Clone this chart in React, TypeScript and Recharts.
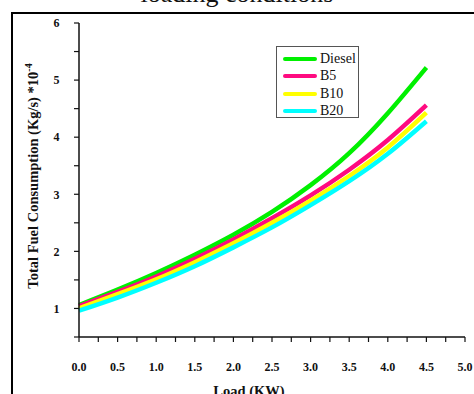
import { LineChart, Line, XAxis, YAxis, Legend } from "recharts";

const loads = [0, 0.5, 1.0, 1.5, 2.0, 2.5, 3.0, 3.5, 4.0, 4.5];
const diesel = [1.06, 1.33, 1.62, 1.94, 2.29, 2.69, 3.16, 3.72, 4.42, 5.22];
const b5 = [1.04, 1.29, 1.56, 1.87, 2.21, 2.58, 2.98, 3.43, 3.95, 4.56];
const b10 = [1.0, 1.25, 1.51, 1.81, 2.14, 2.5, 2.89, 3.32, 3.82, 4.43];
const b20 = [0.96, 1.19, 1.45, 1.74, 2.07, 2.42, 2.81, 3.23, 3.71, 4.28];

const xTicks = [0, 0.25, 0.5, 0.75, 1, 1.25, 1.5, 1.75, 2, 2.25, 2.5, 2.75, 3, 3.25, 3.5, 3.75, 4, 4.25, 4.5, 4.75, 5];
const yTicks = [0.5, 1, 1.5, 2, 2.5, 3, 3.5, 4, 4.5, 5, 5.5, 6];

const series = [
  { key: "diesel", name: "Diesel", color: "#00f000" },
  { key: "b5", name: "B5", color: "#ff0a80" },
  { key: "b10", name: "B10", color: "#ffff00" },
  { key: "b20", name: "B20", color: "#00ffff" },
];

const data = loads.map((load, i) => ({
  load,
  diesel: diesel[i],
  b5: b5[i],
  b10: b10[i],
  b20: b20[i],
}));

const serif = "'Liberation Serif', 'Times New Roman', serif";
const tickStyle = { fontSize: 12, fontWeight: 700, fill: "#111", fontFamily: serif };

function renderLegend() {
  return (
    <div
      style={{
        width: 83,
        height: 72,
        border: "1px solid #555",
        background: "#fff",
        fontFamily: serif,
        fontSize: 14,
        color: "#111",
        paddingTop: 3,
        boxSizing: "border-box",
      }}
    >
      {series.map((s) => (
        <div key={s.key} style={{ display: "flex", alignItems: "center", height: 17.5 }}>
          <span
            style={{
              display: "inline-block",
              width: 34,
              height: 4,
              marginLeft: 6,
              marginRight: 3,
              background: s.color,
              borderRadius: 2,
            }}
          />
          <span>{s.name}</span>
        </div>
      ))}
    </div>
  );
}

export default function App() {
  return (
    <div
      style={{
        position: "absolute",
        left: 0,
        top: 0,
        width: 474,
        height: 394,
        overflow: "hidden",
        background: "#fff",
      }}
    >
      <div
        style={{
          position: "absolute",
          left: 0,
          width: 474,
          top: -23,
          textAlign: "center",
          fontFamily: serif,
          fontSize: 26,
          lineHeight: "34px",
          color: "#111",
        }}
      >
        loading conditions
      </div>
      <div
        style={{
          position: "absolute",
          left: 11,
          top: 12,
          width: 480,
          height: 400,
          borderLeft: "2px solid #000",
          borderTop: "2px solid #000",
        }}
      />
      <div style={{ position: "absolute", left: 0, top: 0 }}>
        <LineChart
          width={474}
          height={394}
          data={data}
          margin={{ top: 23, right: 9, left: 29, bottom: 7 }}
        >
          <XAxis
            dataKey="load"
            type="number"
            domain={[0, 5]}
            ticks={xTicks}
            interval={0}
            height={50}
            tickSize={5}
            tickMargin={20}
            tick={tickStyle}
            tickFormatter={(v: number) => (Math.abs(v * 2 - Math.round(v * 2)) < 1e-6 ? v.toFixed(1) : "")}
            axisLine={{ stroke: "#111", strokeWidth: 1.5 }}
            tickLine={{ stroke: "#111", strokeWidth: 1.2 }}
            label={() => (
              <text
                x={249}
                y={396}
                textAnchor="middle"
                fontFamily={serif}
                fontSize={14.5}
                fontWeight={700}
                fill="#111"
              >
                Load (KW)
              </text>
            )}
          />
          <YAxis
            type="number"
            domain={[0.5, 6]}
            ticks={yTicks}
            interval={0}
            width={50}
            tickSize={5}
            tickMargin={14.5}
            tick={tickStyle}
            tickFormatter={(v: number) => (Number.isInteger(v) ? String(v) : "")}
            axisLine={{ stroke: "#111", strokeWidth: 1.5 }}
            tickLine={{ stroke: "#111", strokeWidth: 1.2 }}
            label={() => (
              <text
                transform="translate(38, 176) rotate(-90)"
                textAnchor="middle"
                fontFamily={serif}
                fontSize={14.5}
                fontWeight={700}
                fill="#111"
              >
                Total Fuel Consumption (Kg/s) *10
                <tspan dy={-6} fontSize={10}>
                  -4
                </tspan>
              </text>
            )}
          />
          <Legend
            layout="horizontal"
            verticalAlign="middle"
            align="center"
            content={renderLegend}
            wrapperStyle={{ left: 276, top: 46, width: 83, height: 72 }}
          />
          {series.map((s) => (
            <Line
              key={s.key}
              type="natural"
              dataKey={s.key}
              name={s.name}
              stroke={s.color}
              strokeWidth={4.5}
              dot={false}
              isAnimationActive={false}
            />
          ))}
        </LineChart>
      </div>
    </div>
  );
}
